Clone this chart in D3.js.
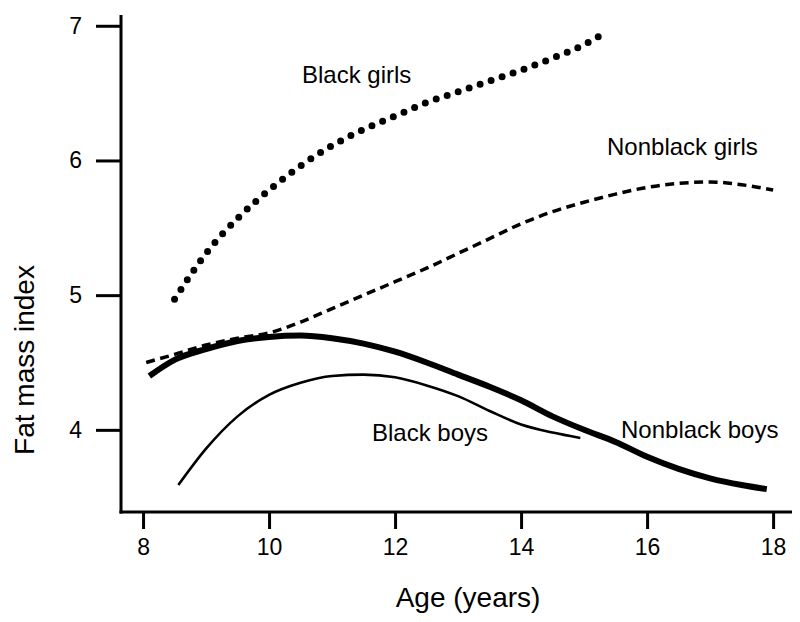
<!DOCTYPE html>
<html><head><meta charset="utf-8">
<script src="https://cdn.jsdelivr.net/npm/d3@7"></script>
<style>body{margin:0;background:#fff}svg{display:block}text{font-family:"Liberation Sans",Arial,sans-serif;fill:#000}</style>
</head><body><svg id="c" width="800" height="622"></svg>
<script>
const blackGirlsAge = [8.5, 9, 9.5, 10, 10.5, 11, 11.5, 12, 12.5, 13, 13.5, 14, 14.5, 15, 15.3];
const blackGirlsFMI = [4.97, 5.31, 5.57, 5.78, 5.96, 6.11, 6.23, 6.33, 6.43, 6.51, 6.59, 6.67, 6.76, 6.86, 6.94];
const nonblackGirlsAge = [8.05, 8.5, 9, 9.5, 10, 10.5, 11, 11.5, 12, 12.5, 13, 13.5, 14, 14.5, 15, 15.5, 16, 16.5, 17, 17.5, 18];
const nonblackGirlsFMI = [4.50, 4.56, 4.63, 4.68, 4.72, 4.80, 4.90, 5.0, 5.1, 5.2, 5.31, 5.42, 5.53, 5.62, 5.69, 5.75, 5.80, 5.83, 5.84, 5.82, 5.78];
const nonblackBoysAge = [8.1, 8.5, 9, 9.5, 10, 10.5, 11, 11.5, 12, 12.5, 13, 13.5, 14, 14.5, 15, 15.5, 16, 16.5, 17, 17.5, 17.9];
const nonblackBoysFMI = [4.40, 4.52, 4.60, 4.66, 4.69, 4.70, 4.68, 4.64, 4.58, 4.50, 4.41, 4.32, 4.22, 4.10, 4.00, 3.91, 3.80, 3.71, 3.64, 3.59, 3.56];
const blackBoysAge = [8.56, 9, 9.5, 10, 10.5, 11, 11.5, 12, 12.5, 13, 13.5, 14, 14.5, 14.94];
const blackBoysFMI = [3.59, 3.86, 4.10, 4.26, 4.35, 4.40, 4.41, 4.39, 4.33, 4.25, 4.14, 4.04, 3.98, 3.94];
const xTicks = [8, 10, 12, 14, 16, 18];
const yTicks = [4, 5, 6, 7];
const seriesLabels = ["Black girls", "Nonblack girls", "Nonblack boys", "Black boys"];

const svg = d3.select("#c");
const x = d3.scaleLinear().domain([7.65, 18.3]).range([121, 792]);
const y = d3.scaleLinear().domain([3.39, 7.08]).range([512, 15]);

const axisStyle = g => { g.select(".domain").remove(); g.selectAll("line").attr("stroke", "#000").attr("stroke-width", 3); g.selectAll("text").attr("font-size", 23).attr("font-family", "Liberation Sans, Arial, sans-serif"); };

const xa = svg.append("g").attr("transform", "translate(0,512)")
  .call(d3.axisBottom(x).tickValues(xTicks).tickSize(17).tickPadding(10).tickFormat(d3.format("d")));
axisStyle(xa);
const ya = svg.append("g").attr("transform", "translate(121,0)")
  .call(d3.axisLeft(y).tickValues(yTicks).tickSize(25).tickPadding(14).tickFormat(d3.format("d")));
axisStyle(ya);

svg.append("line").attr("x1", 121).attr("x2", 121).attr("y1", 15).attr("y2", 513.5).attr("stroke", "#000").attr("stroke-width", 3);
svg.append("line").attr("x1", 119.5).attr("x2", 792).attr("y1", 512).attr("y2", 512).attr("stroke", "#000").attr("stroke-width", 3);

const line = d3.line().x(d => x(d[0])).y(d => y(d[1])).curve(d3.curveMonotoneX);
const zip = (a, b) => a.map((v, i) => [v, b[i]]);

svg.append("path").datum(zip(nonblackBoysAge, nonblackBoysFMI)).attr("d", line)
  .attr("fill", "none").attr("stroke", "#000").attr("stroke-width", 6);
svg.append("path").datum(zip(nonblackGirlsAge, nonblackGirlsFMI)).attr("d", line)
  .attr("fill", "none").attr("stroke", "#000").attr("stroke-width", 3.5).attr("stroke-dasharray", "9 5.5");
svg.append("path").datum(zip(blackBoysAge, blackBoysFMI)).attr("d", line)
  .attr("fill", "none").attr("stroke", "#000").attr("stroke-width", 2.6);
svg.append("path").datum(zip(blackGirlsAge, blackGirlsFMI)).attr("d", line)
  .attr("fill", "none").attr("stroke", "#000").attr("stroke-width", 7).attr("stroke-linecap", "round").attr("stroke-dasharray", "0 11.6");

const lab = [[seriesLabels[0], 302, 83], [seriesLabels[1], 607, 155], [seriesLabels[2], 621, 438], [seriesLabels[3], 372, 441]];
svg.selectAll("text.lab").data(lab).join("text").attr("class", "lab")
  .attr("x", d => d[1]).attr("y", d => d[2]).attr("font-size", 24).text(d => d[0]);

svg.append("text").attr("x", 468).attr("y", 607).attr("text-anchor", "middle").attr("font-size", 28).text("Age (years)");
svg.append("text").attr("transform", "translate(34,360) rotate(-90)").attr("text-anchor", "middle").attr("font-size", 28).text("Fat mass index");
</script></body></html>
